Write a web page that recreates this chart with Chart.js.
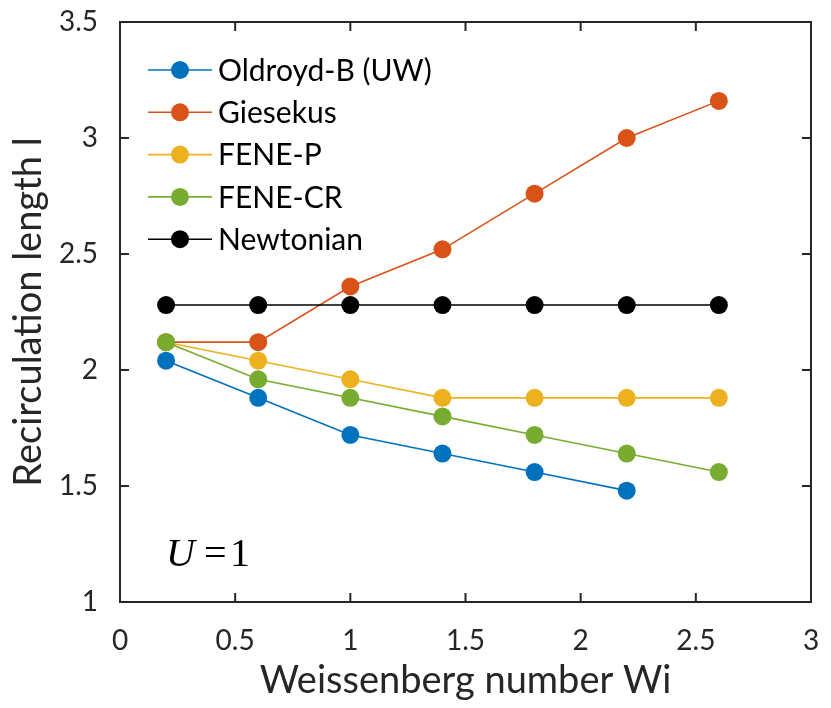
<!DOCTYPE html>
<html>
<head>
<meta charset="utf-8">
<script src="https://cdn.jsdelivr.net/npm/chart.js@4"></script>
<style>
  html, body { margin: 0; padding: 0; background: #fff; }
  #wrap { width: 831px; height: 708px; }
</style>
</head>
<body>
<div id="wrap"><canvas id="chart" width="831" height="708"></canvas></div>
<script>
// ===== Data =====
const wi = [0.2, 0.6, 1.0, 1.4, 1.8, 2.2, 2.6];
const oldroydB = [2.04, 1.88, 1.72, 1.64, 1.56, 1.48];
const giesekus = [2.12, 2.12, 2.36, 2.52, 2.76, 3.00, 3.16];
const feneP = [2.12, 2.04, 1.96, 1.88, 1.88, 1.88, 1.88];
const feneCR = [2.12, 1.96, 1.88, 1.80, 1.72, 1.64, 1.56];
const newtonian = [2.28, 2.28, 2.28, 2.28, 2.28, 2.28, 2.28];

const seriesNames = ['Oldroyd-B (UW)', 'Giesekus', 'FENE-P', 'FENE-CR', 'Newtonian'];
const seriesValues = [oldroydB, giesekus, feneP, feneCR, newtonian];
const seriesColors = ['#0072BD', '#D95319', '#EDB120', '#77AC30', '#000000'];

const xTicks = [0, 0.5, 1, 1.5, 2, 2.5, 3];
const yTicks = [1, 1.5, 2, 2.5, 3, 3.5];

const FONT = 'Lato, "Open Sans", sans-serif';
const AXIS = '#262626';

function toPoints(vals) {
    return vals.map((v, i) => ({ x: wi[i], y: v }));
}

// ===== Frame, inward ticks, legend and annotation =====
const decorPlugin = {
    id: 'decor',
    afterDraw(chart) {
        const { ctx, chartArea: a, scales } = chart;
        ctx.save();
        ctx.strokeStyle = AXIS;
        ctx.lineWidth = 2;
        ctx.strokeRect(a.left, a.top, a.right - a.left, a.bottom - a.top);

        const t = 9;
        ctx.beginPath();
        xTicks.forEach(v => {
            const px = scales.x.getPixelForValue(v);
            ctx.moveTo(px, a.bottom); ctx.lineTo(px, a.bottom - t);
            ctx.moveTo(px, a.top); ctx.lineTo(px, a.top + t);
        });
        yTicks.forEach(v => {
            const py = scales.y.getPixelForValue(v);
            ctx.moveTo(a.left, py); ctx.lineTo(a.left + t, py);
            ctx.moveTo(a.right, py); ctx.lineTo(a.right - t, py);
        });
        ctx.stroke();

        // legend
        const lx = 148, ly = 70, gap = 42.3;
        seriesNames.forEach((name, i) => {
            const y = ly + i * gap;
            ctx.strokeStyle = seriesColors[i];
            ctx.lineWidth = 1.6;
            ctx.beginPath();
            ctx.moveTo(lx, y); ctx.lineTo(lx + 64, y);
            ctx.stroke();
            ctx.fillStyle = seriesColors[i];
            ctx.beginPath();
            ctx.arc(lx + 32, y, 9, 0, Math.PI * 2);
            ctx.fill();
            ctx.fillStyle = '#000';
            ctx.font = '30px ' + FONT;
            ctx.textBaseline = 'middle';
            ctx.textAlign = 'left';
            ctx.fillText(name, lx + 70, y + 1);
        });

        // U = 1
        ctx.fillStyle = '#000';
        ctx.textBaseline = 'alphabetic';
        ctx.font = 'italic 40px "Liberation Serif", "DejaVu Serif", serif';
        ctx.fillText('U', 166, 566);
        ctx.font = '40px "Liberation Serif", "DejaVu Serif", serif';
        ctx.fillText('=', 204, 566);
        ctx.fillText('1', 230, 566);
        ctx.restore();
    }
};

new Chart(document.getElementById('chart'), {
    type: 'line',
    data: {
        datasets: seriesNames.map((name, i) => ({
            label: name,
            data: toPoints(seriesValues[i]),
            borderColor: seriesColors[i],
            backgroundColor: seriesColors[i],
            borderWidth: 1.6,
            pointRadius: 9,
            pointBorderWidth: 0,
            tension: 0,
            fill: false,
            order: seriesNames.length - i
        }))
    },
    options: {
        responsive: false,
        animation: false,
        layout: { padding: { top: 22, right: 20, left: 0, bottom: 0 } },
        plugins: {
            legend: { display: false },
            tooltip: { enabled: false }
        },
        scales: {
            x: {
                type: 'linear',
                min: 0,
                max: 3,
                afterBuildTicks: s => { s.ticks = xTicks.map(v => ({ value: v })); },
                afterFit: s => { s.height = 106; s.paddingLeft = 0; s.paddingRight = 0; },
                grid: { display: false },
                border: { display: false },
                ticks: {
                    font: { family: FONT, size: 28 },
                    color: AXIS,
                    padding: 14,
                    maxRotation: 0,
                    callback: v => String(v)
                },
                title: {
                    display: true,
                    text: 'Weissenberg number Wi',
                    font: { family: FONT, size: 38 },
                    color: AXIS,
                    padding: { top: 0 }
                }
            },
            y: {
                type: 'linear',
                min: 1,
                max: 3.5,
                afterBuildTicks: s => { s.ticks = yTicks.map(v => ({ value: v })); },
                afterFit: s => { s.width = 120; s.paddingTop = 0; s.paddingBottom = 0; },
                grid: { display: false },
                border: { display: false },
                ticks: {
                    font: { family: FONT, size: 28 },
                    color: AXIS,
                    padding: 14,
                    callback: v => String(v)
                },
                title: {
                    display: true,
                    text: 'Recirculation length l',
                    font: { family: FONT, size: 38 },
                    color: AXIS,
                    padding: { top: 6, bottom: 0 }
                }
            }
        }
    },
    plugins: [decorPlugin]
});
</script>
</body>
</html>
